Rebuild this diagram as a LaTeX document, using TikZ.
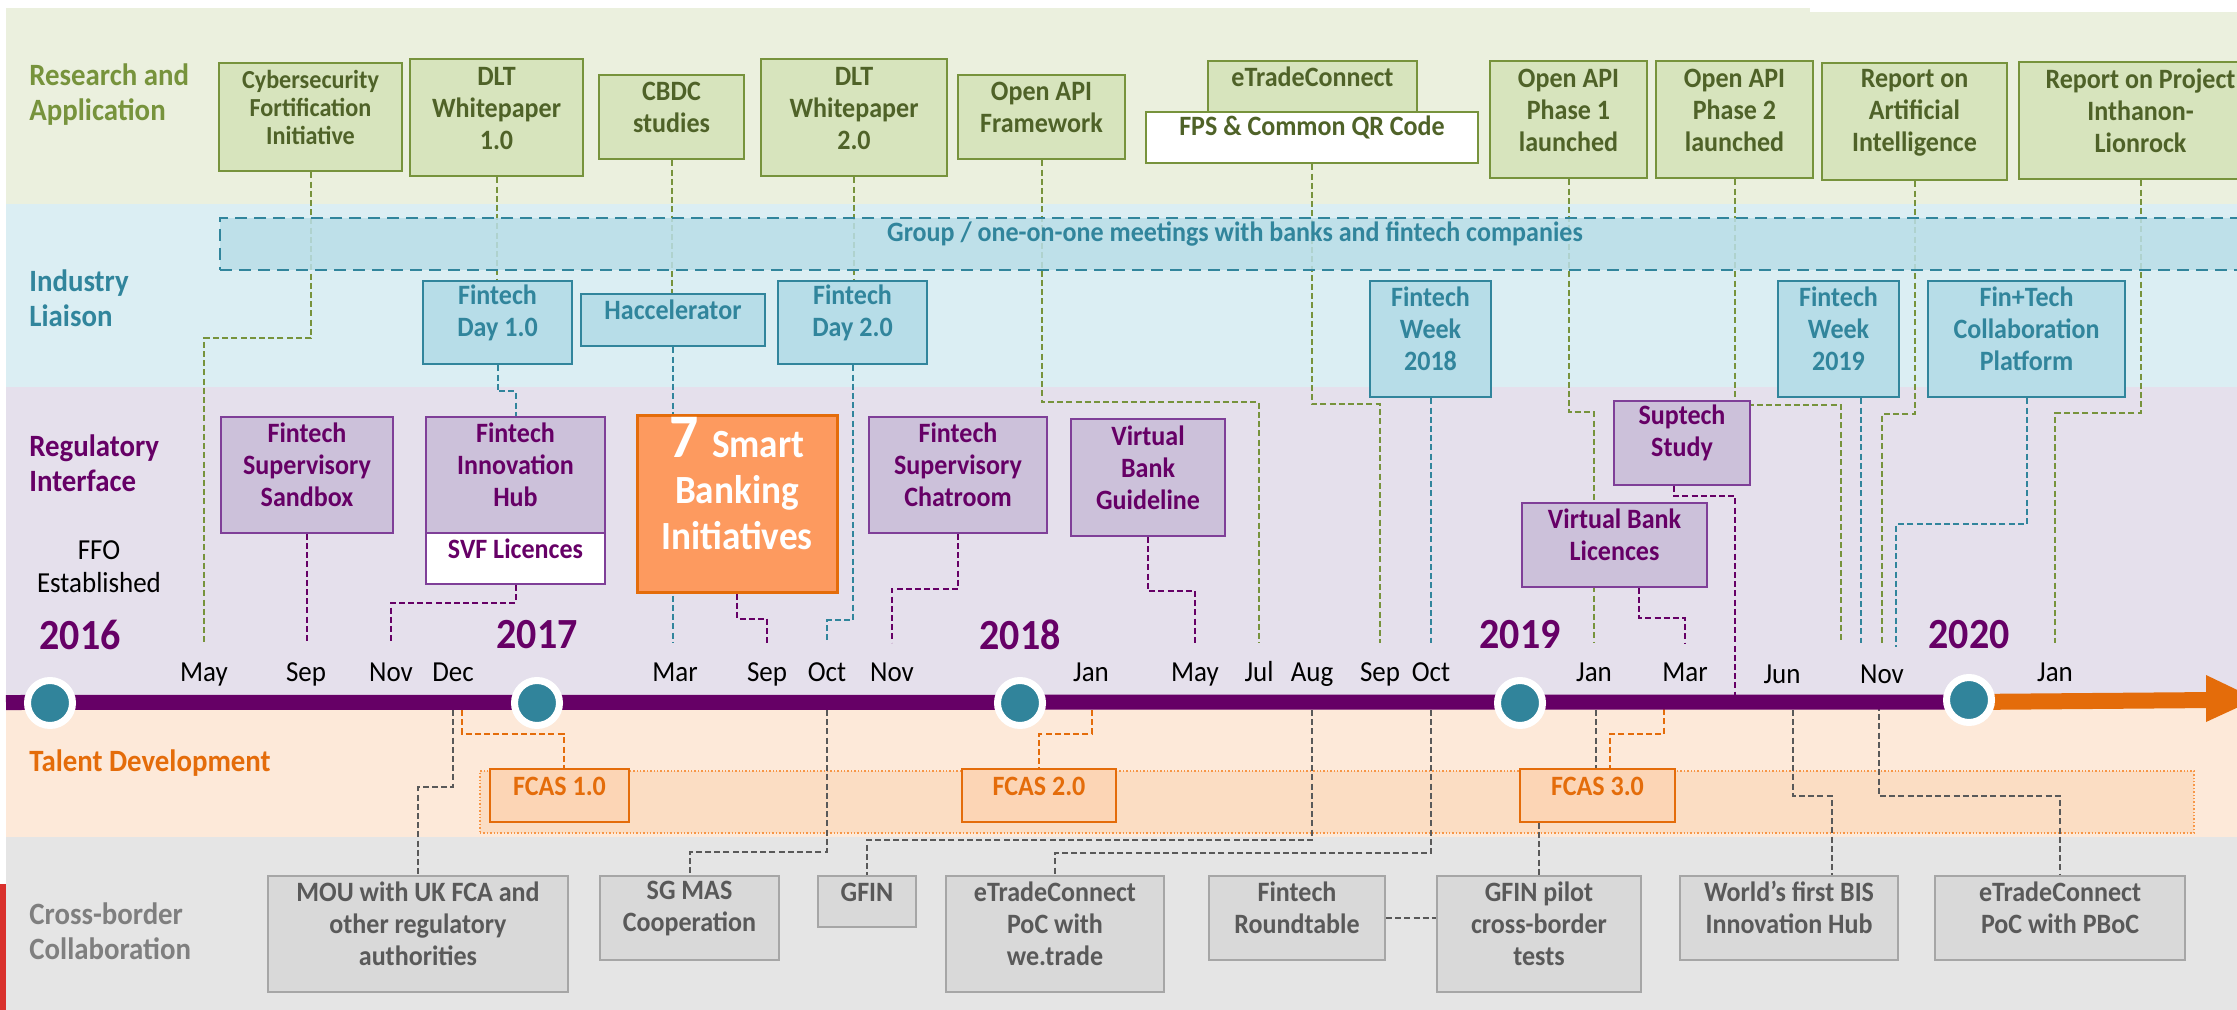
\documentclass[tikz,border=0pt]{standalone}
\usepackage{fontspec}
\setmainfont{Carlito}[FakeStretch=0.93]
\usetikzlibrary{fit,calc}
\definecolor{grnF}{HTML}{D7E4BD}
\definecolor{grnD}{HTML}{77933C}
\definecolor{grnT}{HTML}{4F6228}
\definecolor{bluF}{HTML}{B7DDE8}
\definecolor{bluD}{HTML}{31859C}
\definecolor{bluG}{HTML}{B9DEE8}
\definecolor{purF}{HTML}{CCC1DA}
\definecolor{purB}{HTML}{7F3F98}
\definecolor{purT}{HTML}{660066}
\definecolor{sbiF}{HTML}{FD9A5F}
\definecolor{orgD}{HTML}{E46C0A}
\definecolor{orgL}{HTML}{F79646}
\definecolor{fcasF}{HTML}{FCD5B5}
\definecolor{fcasB}{HTML}{FBDDC3}
\definecolor{gryF}{HTML}{D9D9D9}
\definecolor{gryB}{HTML}{A6A6A6}
\definecolor{gryT}{HTML}{595959}
\definecolor{gryL}{HTML}{7F7F7F}
\definecolor{bandR}{HTML}{EBF0DE}
\definecolor{bandI}{HTML}{DBEEF3}
\definecolor{bandP}{HTML}{E5E0EC}
\definecolor{bandT}{HTML}{FDE9D9}
\definecolor{bandC}{HTML}{E5E5E5}
\definecolor{redC}{HTML}{D9302C}
\definecolor{tealC}{HTML}{31849B}
\pgfdeclarelayer{bgl}
\pgfdeclarelayer{conn}
\pgfdeclarelayer{bandl}
\pgfsetlayers{bgl,conn,bandl,main}
\tikzset{
  bx/.style={inner sep=0pt, align=center, font=\bfseries\fontsize{14}{16}\selectfont},
  rbox/.style={bx, draw=grnD, fill=grnF, line width=1.4pt, text=grnT},
  ibox/.style={bx, draw=bluD, fill=bluF, line width=1.4pt, text=bluD},
  pbox/.style={bx, draw=purB, fill=purF, line width=0.8pt, text=purT},
  tbox/.style={bx, draw=orgD, fill=fcasF, line width=0.8pt, text=orgD},
  cbox/.style={bx, draw=gryB, fill=gryF, line width=0.9pt, text=gryT},
  cn/.style={dash pattern=on 3pt off 1.6pt, line width=1pt},
  month/.style={font=\fontsize{14.5}{16}\selectfont, anchor=base, text height=10pt, text depth=3pt, inner ysep=9pt, inner xsep=1pt},
  yr/.style={font=\bfseries\fontsize{21.5}{24}\selectfont, text=purT, inner sep=0pt},
  lane/.style={anchor=west, align=left, font=\bfseries\fontsize{15.5}{17.5}\selectfont, inner sep=0pt},
  tdot/.style={circle, fill=tealC, draw=white, line width=3.5pt, minimum size=22.5pt, inner sep=0pt},
}
\begin{document}
\begin{tikzpicture}[x=0.5pt,y=-0.5pt]
\useasboundingbox (0,0) rectangle (2237,1010);
\begin{pgfonlayer}{bgl}
\fill[white] (0,0) rectangle (2237,1010);
\fill[bandR] (6,8) rectangle (2237,204);
\fill[white] (1810,8) rectangle (2237,12);
\fill[bandI] (6,204) rectangle (2237,387);
\fill[bandP] (6,387) rectangle (2237,702);
\fill[bandT] (6,702) rectangle (2237,837);
\fill[bandC] (6,837) rectangle (2237,1010);
\fill[redC] (0,884) rectangle (6,1010);
\node[fit={(480,771) (2194,833)}, inner sep=0pt, fill=fcasB, draw=orgL, densely dotted, line width=0.7pt] (fcasband) {};
\end{pgfonlayer}

% lane labels
\node[lane, text=grnD] (lres) at (29,95) {Research and\\Application};
\node[lane, text=bluD] (lind) at (29,298) {Industry\\Liaison};
\node[lane, text=purT] (lreg) at (29,463) {Regulatory\\Interface};
\node[lane, text=orgD] (ltal) at (29,763) {Talent Development};
\node[lane, text=gryL] (lcro) at (29,931) {Cross-border\\Collaboration};
\node[align=center, font=\fontsize{14.5}{16.5}\selectfont] (ffo) at (99,567) {FFO\\Established};

% industry band
\begin{pgfonlayer}{bandl}
\node[fit={(220,218) (2250,270)}, inner sep=0pt, draw=bluD, fill=bluG, fill opacity=0.85, text opacity=1, dash pattern=on 6pt off 3.5pt, line width=1.3pt, text=bluD, font=\bfseries\fontsize{14}{16}\selectfont] (grp) {Group / one-on-one meetings with banks and fintech companies};
\end{pgfonlayer}

% research boxes
\node[rbox, font=\bfseries\fontsize{13}{14}\selectfont, fit={(219,63) (402,171)}] (cyber) {Cybersecurity\\Fortification\\Initiative};
\node[rbox, fit={(410,59) (583,176)}] (dlt1) {DLT\\Whitepaper\\1.0};
\node[rbox, fit={(599,75) (744,159)}] (cbdc) {CBDC\\studies};
\node[rbox, fit={(761,59) (947,176)}] (dlt2) {DLT\\Whitepaper\\2.0};
\node[rbox, fit={(958,75) (1125,159)}] (oapi) {Open API\\Framework};
\node[rbox, fit={(1208,61) (1417,112)}] (etc) {eTradeConnect};
\node[rbox, fill=white, fit={(1146,112) (1478,163)}] (fps) {FPS \& Common QR Code};
\node[rbox, fit={(1490,61) (1647,178)}] (ph1) {Open API\\Phase 1\\launched};
\node[rbox, fit={(1656,61) (1813,178)}] (ph2) {Open API\\Phase 2\\launched};
\node[rbox, fit={(1822,63) (2007,180)}] (ai) {Report on\\Artificial\\Intelligence};
\node[rbox, fit={(2019,62) (2262,179)}] (inth) {Report on Project\\Inthanon-\\Lionrock};

% industry boxes
\node[ibox, fit={(423,281) (572,364)}] (fd1) {Fintech\\Day 1.0};
\node[ibox, fit={(581,294) (765,346)}] (hacc) {Haccelerator};
\node[ibox, fit={(778,281) (927,364)}] (fd2) {Fintech\\Day 2.0};
\node[ibox, fit={(1370,281) (1491,397)}] (fw18) {Fintech\\Week\\2018};
\node[ibox, fit={(1778,281) (1899,397)}] (fw19) {Fintech\\Week\\2019};
\node[ibox, fit={(1928,281) (2125,397)}] (ftc) {Fin+Tech\\Collaboration\\Platform};

% regulatory boxes
\node[pbox, fit={(221,417) (393,533)}] (fss) {Fintech\\Supervisory\\Sandbox};
\node[pbox, fit={(426,417) (605,533)}] (fih) {Fintech\\Innovation\\Hub};
\node[pbox, fill=white, fit={(426,533) (605,584)}] (svf) {SVF Licences};
\node[fit={(637,416) (837,592)}, inner sep=0pt, draw=orgD, fill=sbiF, line width=1.5pt, text=white, align=center, font=\bfseries\fontsize{20}{23}\selectfont] (sbi) {{\fontsize{31}{31}\selectfont 7} Smart\\Banking\\Initiatives};
\node[pbox, fit={(869,417) (1047,533)}] (fsc) {Fintech\\Supervisory\\Chatroom};
\node[pbox, fit={(1071,419) (1225,536)}] (vbg) {Virtual\\Bank\\Guideline};
\node[pbox, fit={(1614,401) (1750,485)}] (sup) {Suptech\\Study};
\node[pbox, fit={(1522,503) (1707,587)}] (vbl) {Virtual Bank\\Licences};

% talent boxes
\node[tbox, fit={(490,769) (629,822)}] (fcas1) {FCAS 1.0};
\node[tbox, fit={(962,769) (1116,822)}] (fcas2) {FCAS 2.0};
\node[tbox, fit={(1520,769) (1675,822)}] (fcas3) {FCAS 3.0};

% cross-border boxes
\node[cbox, fit={(268,876) (568,992)}] (mou) {MOU with UK FCA and\\other regulatory\\authorities};
\node[cbox, fit={(600,876) (779,960)}] (sgmas) {SG MAS\\Cooperation};
\node[cbox, fit={(818,876) (916,927)}] (gfin) {GFIN};
\node[cbox, fit={(946,876) (1164,992)}] (etpoc) {eTradeConnect\\PoC with\\we.trade};
\node[cbox, fit={(1209,876) (1385,960)}] (frt) {Fintech\\Roundtable};
\node[cbox, fit={(1437,876) (1641,992)}] (gfinp) {GFIN pilot\\cross-border\\tests};
\node[cbox, fit={(1680,876) (1898,960)}] (bis) {World’s first BIS\\Innovation Hub};
\node[cbox, fit={(1935,876) (2185,960)}] (pboc) {eTradeConnect\\PoC with PBoC};

% timeline bar
\coordinate (tl0) at (6,702.5);
\coordinate (tl1) at (1969,702);
\coordinate (tl2) at (2215,700);
\coordinate (tip) at (2256,699);
\coordinate (tipu) at (2206,675);
\coordinate (tipd) at (2206,722);
\draw[purT, line width=7.5pt] (tl0) -- (tl1);
\draw[orgD, line width=8pt] (tl1) -- (tl2);
\fill[orgD] (tipu) -- (tip) -- (tipd) -- cycle;
\node[tdot] (c16) at (50,703) {};
\node[tdot] (c17) at (537,703) {};
\node[tdot] (c18) at (1020,703) {};
\node[tdot] (c19) at (1520,703) {};
\node[tdot] (c20) at (1969,700) {};

% years
\node[yr] (y16) at (80,635) {2016};
\node[yr] (y17) at (537,635) {2017};
\node[yr] (y18) at (1020,635) {2018};
\node[yr] (y19) at (1520,635) {2019};
\node[yr] (y20) at (1969,635) {2020};

% months
\node[month] (may16) at (204,681) {May};
\node[month] (sep16) at (306,681) {Sep};
\node[month] (nov16) at (391,681) {Nov};
\node[month] (dec16) at (453,681) {Dec};
\node[month] (mar17) at (675,681) {Mar};
\node[month] (sep17) at (767,681) {Sep};
\node[month] (oct17) at (827,681) {Oct};
\node[month] (nov17) at (892,681) {Nov};
\node[month] (jan18) at (1091,681) {Jan};
\node[month] (may18) at (1195,681) {May};
\node[month] (jul18) at (1259,681) {Jul};
\node[month] (aug18) at (1312,681) {Aug};
\node[month] (sep18) at (1380,681) {Sep};
\node[month] (oct18) at (1431,681) {Oct};
\node[month] (jan19) at (1594,681) {Jan};
\node[month] (mar19) at (1685,681) {Mar};
\node[month] (jun19) at (1782,683) {Jun};
\node[month] (nov19) at (1882,683) {Nov};
\node[month] (jan20) at (2055,681) {Jan};

% free ends
\coordinate (ph2end) at (1841,643);
\coordinate (fw19end) at (1861,643);
\coordinate (ftcend) at (1896,647);
\coordinate (supend) at (1735,696);
\coordinate (bo1) at (462,710);
\coordinate (bo2) at (1092,710);
\coordinate (bo3) at (1664,700);
\coordinate (bg1) at (453,710);
\coordinate (bg2) at (826.5,710);
\coordinate (bg3) at (1312,710);
\coordinate (bg4) at (1431,710);
\coordinate (bg5) at (1595.5,710);
\coordinate (bg6) at (1793,710);
\coordinate (bg7) at (1879,705);

\begin{pgfonlayer}{conn}
% green
\draw[cn, grnD] (cyber.south) -- ++(0,166) -| (may16.north);
\draw[cn, grnD] (dlt1.south) -- (dlt1.south |- fd1.north);
\draw[cn, grnD] (cbdc.south) -- (cbdc.south |- hacc.north);
\draw[cn, grnD] (dlt2.south) -- (dlt2.south |- fd2.north);
\draw[cn, grnD] (oapi.south) -- ++(0,242) -| (jul18.north);
\draw[cn, grnD] (fps.south) -- ++(0,240) -| (sep18.north);
\draw[cn, grnD] (ph1.south) -- ++(0,233) -| (jan19.north);
\draw[cn, grnD] (ph2.south) -- ++(0,226) -| (ph2end);
\draw[cn, grnD] (ai.south) -- ++(0,233) -| (nov19.north);
\draw[cn, grnD] (inth.south) -- ++(0,233) -| (jan20.north);
% teal
\draw[cn, bluD] (fd1.south) -- ++(0,26) -| (fih.north);
\draw[cn, bluD] (hacc.south) -- (hacc.south |- mar17.north);
\draw[cn, bluD] (fd2.south) -- ++(0,255) -| (oct17.north);
\draw[cn, bluD] (fw18.south) -- (fw18.south |- oct18.north);
\draw[cn, bluD] (fw19end |- fw19.south) -- (fw19end);
\draw[cn, bluD] (ftc.south) -- ++(0,126) -| (ftcend);
% purple
\draw[cn, purT] (fss.south) -- (fss.south |- sep16.north);
\draw[cn, purT] (svf.south) -- ++(0,18) -| (nov16.north);
\draw[cn, purT] (sbi.south) -- ++(0,25) -| (sep17.north);
\draw[cn, purT] (fsc.south) -- ++(0,55) -| (nov17.north);
\draw[cn, purT] (vbg.south) -- ++(0,54) -| (may18.north);
\draw[cn, purT] ([xshift=12pt]vbl.south) -- ++(0,30) -| (mar19.north);
\draw[cn, purT] ([xshift=-4pt]sup.south) -- ++(0,10) -| (supend);
% orange
\draw[cn, orgD] (bo1) -- ++(0,24) -| ([xshift=2pt]fcas1.north);
\draw[cn, orgD] (bo2) -- ++(0,24) -| (fcas2.north);
\draw[cn, orgD] (bo3) -- ++(0,34) -| ([xshift=6pt]fcas3.north);
% gray
\draw[cn, gryT] (bg1) -- ++(0,77) -| (mou.north);
\draw[cn, gryT] (bg2) -- ++(0,142) -| (sgmas.north);
\draw[cn, gryT] (bg3) -- ++(0,130) -| (gfin.north);
\draw[cn, gryT] (bg4) -- ++(0,143) -| (etpoc.north);
\draw[cn, gryT] (bg5) -- (bg5 |- fcas3.north);
\draw[cn, gryT] (gfinp.north |- fcas3.south) -- (gfinp.north);
\draw[cn, gryT] (frt.east) -- (frt.east -| gfinp.west);
\draw[cn, gryT] (bg6) -- ++(0,86) -| ([xshift=21.5pt]bis.north);
\draw[cn, gryT] (bg7) -- ++(0,91) -| (pboc.north);
\end{pgfonlayer}
\end{tikzpicture}
\end{document}
